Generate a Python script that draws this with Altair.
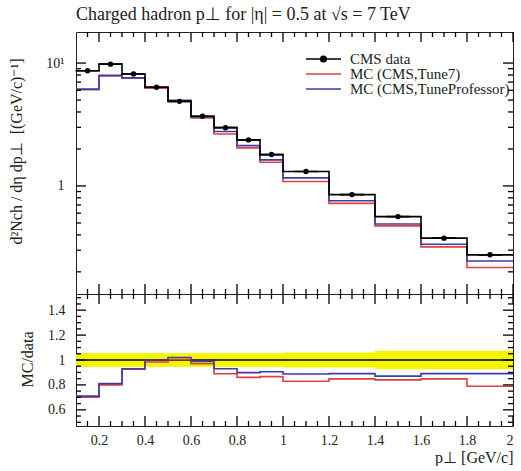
import altair as alt
import pandas as pd

# ---------------- data ----------------
bin_edges = [0.1, 0.2, 0.3, 0.4, 0.5, 0.6, 0.7, 0.8, 0.9, 1.0, 1.2, 1.4, 1.6, 1.8, 2.0]
cms_data = [8.65, 9.80, 8.15, 6.35, 4.88, 3.69, 2.98, 2.37, 1.80, 1.31, 0.850, 0.563, 0.376, 0.275]
mc_tune7 = [6.06, 7.84, 7.54, 6.25, 4.90, 3.58, 2.65, 2.04, 1.56, 1.087, 0.721, 0.473, 0.319, 0.217]
mc_prof = [6.14, 7.94, 7.58, 6.35, 4.98, 3.65, 2.77, 2.13, 1.63, 1.163, 0.757, 0.490, 0.335, 0.245]
data_rel_err = [0.055, 0.055, 0.055, 0.055, 0.055, 0.055, 0.055, 0.055, 0.055,
                0.06, 0.06, 0.075, 0.075, 0.075]

series_names = ["CMS data", "MC (CMS,Tune7)", "MC (CMS,TuneProfessor)"]
series_colors = ["#000000", "#e0403c", "#3c3ca8"]

x_major = [0.2, 0.4, 0.6, 0.8, 1.0, 1.2, 1.4, 1.6, 1.8, 2.0]
x_minor = [0.15, 0.25, 0.3, 0.35, 0.45, 0.5, 0.55, 0.65, 0.7, 0.75, 0.85, 0.9, 0.95,
           1.05, 1.1, 1.15, 1.25, 1.3, 1.35, 1.45, 1.5, 1.55, 1.65, 1.7, 1.75,
           1.85, 1.9, 1.95]
y_main_major = [1, 10]
y_main_minor = [0.2, 0.3, 0.4, 0.5, 0.6, 0.7, 0.8, 0.9, 2, 3, 4, 5, 6, 7, 8, 9]
ratio_major = [0.6, 0.8, 1.0, 1.2, 1.4]
ratio_minor = [0.5, 0.55, 0.65, 0.7, 0.75, 0.85, 0.9, 0.95, 1.05, 1.1, 1.15,
               1.25, 1.3, 1.35, 1.45, 1.5]

NB = "\u00a0"
title_text = "Charged hadron p\u22a5 for |\u03b7| = 0.5 at \u221as = 7 TeV"
ytitle_main = ("d\u00b2Nch" + NB + "/" + NB + "d\u03b7" + NB + "dp\u22a5" + NB + NB
               + "[(GeV/c)\u207b\u00b9]")
ytitle_ratio = "MC/data"
xtitle = "p\u22a5 [GeV/c]"

# ---------------- layout / style ----------------
FONT = "Liberation Serif"
FRAME = "#222222"
TICK = "#000000"
TXT = "#222222"
W = 437
H_MAIN = 262
H_RATIO = 132
MAJ = 10
MIN = 5
LW = 1.6
TW = 1.3

xs = alt.Scale(domain=[0.1, 2.0], nice=False, zero=False)
ys_main = alt.Scale(type="log", domain=[0.132, 17.9], nice=False)
ys_ratio = alt.Scale(domain=[0.47, 1.53], nice=False, zero=False)

main_yaxis = alt.Axis(
    values=y_main_major,
    labelExpr="datum.value == 10 ? '10\u00b9' : '1'",
    ticks=False, domain=False, grid=False,
    labelFont=FONT, labelFontSize=14, labelPadding=12, labelColor=TXT,
    title=ytitle_main, titleFont=FONT, titleFontSize=16, titleFontWeight="normal",
    titleColor=TXT, titleX=-60, titleY=119, titleBaseline="middle",
)
ratio_xaxis = alt.Axis(
    values=x_major, format="~g", ticks=False, domain=False, grid=False,
    labelFont=FONT, labelFontSize=14, labelPadding=7, labelColor=TXT,
    title=xtitle, titleFont=FONT, titleFontSize=16, titleFontWeight="normal",
    titleColor=TXT, titleAnchor="end", titlePadding=2,
)
ratio_yaxis = alt.Axis(
    values=ratio_major,
    labelExpr=("datum.value == 1 ? '1' : format(datum.value, '.1f') + '"
               + NB * 4 + "'"),
    ticks=False, domain=False, grid=False,
    labelFont=FONT, labelFontSize=14, labelColor=TXT, labelPadding=11,
    title=ytitle_ratio, titleFont=FONT, titleFontSize=16, titleFontWeight="normal",
    titleColor=TXT, titleX=-49, titleY=65, titleBaseline="middle",
)


def step_table(values):
    vals = list(values) + [values[-1]]
    return pd.DataFrame({"x": bin_edges, "y": vals})


def step_line(values, color, yscale, yaxis, xaxis):
    return alt.Chart(step_table(values)).mark_line(
        interpolate="step-after", color=color, strokeWidth=LW, clip=True
    ).encode(
        x=alt.X("x:Q", scale=xs, axis=xaxis),
        y=alt.Y("y:Q", scale=yscale, axis=yaxis),
    )


def x_ticks(values, length, height, xaxis):
    df = pd.DataFrame({"v": values})
    base = alt.Chart(df).mark_tick(orient="vertical", color=TICK, thickness=TW,
                                   size=length, opacity=1)
    bottom = base.encode(x=alt.X("v:Q", scale=xs, axis=xaxis),
                         y=alt.value(height - length / 2))
    top = base.encode(x=alt.X("v:Q", scale=xs, axis=xaxis),
                      y=alt.value(length / 2))
    return [bottom, top]


def y_ticks(values, length, yscale, yaxis):
    df = pd.DataFrame({"v": values})
    base = alt.Chart(df).mark_tick(orient="horizontal", color=TICK, thickness=TW,
                                   size=length, opacity=1)
    left = base.encode(y=alt.Y("v:Q", scale=yscale, axis=yaxis),
                       x=alt.value(length / 2))
    right = base.encode(y=alt.Y("v:Q", scale=yscale, axis=yaxis),
                        x=alt.value(W - length / 2))
    return [left, right]


# ---------------- main panel ----------------
dot_path = ("M-1,0L1,0M-0.16,0A0.16,0.16,0,1,1,0.16,0"
            "A0.16,0.16,0,1,1,-0.16,0Z")
legend_spec = alt.Legend(
    title=None, orient="none", legendX=229, legendY=21, padding=0,
    labelFont=FONT, labelFontSize=15, labelColor=TXT, labelOffset=8, labelLimit=400,
    symbolSize=1225, symbolStrokeWidth=LW, clipHeight=12, rowPadding=0,
)

centers = [(a + b) / 2 for a, b in zip(bin_edges[:-1], bin_edges[1:])]
pts_df = pd.DataFrame({"x": centers, "y": cms_data, "series": series_names[0]})
points = alt.Chart(pts_df).mark_point(
    filled=False, size=576, strokeWidth=LW, opacity=1
).encode(
    x=alt.X("x:Q", scale=xs, axis=None),
    y=alt.Y("y:Q", scale=ys_main, axis=main_yaxis),
    stroke=alt.Stroke("series:N", scale=alt.Scale(domain=series_names, range=series_colors),
                      legend=legend_spec),
    fill=alt.Fill("series:N", scale=alt.Scale(domain=series_names,
                                               range=["#000000", "#000000", "#000000"]),
                  legend=legend_spec),
    shape=alt.Shape("series:N", scale=alt.Scale(domain=series_names,
                                                 range=[dot_path, "stroke", "stroke"]),
                    legend=legend_spec),
)

main_layers = [
    step_line(mc_tune7, series_colors[1], ys_main, main_yaxis, None),
    step_line(mc_prof, series_colors[2], ys_main, main_yaxis, None),
    step_line(cms_data, series_colors[0], ys_main, main_yaxis, None),
    points,
]
main_layers += x_ticks(x_major, MAJ, H_MAIN, None) + x_ticks(x_minor, MIN, H_MAIN, None)
main_layers += (y_ticks(y_main_major, MAJ, ys_main, main_yaxis)
                + y_ticks(y_main_minor, MIN, ys_main, main_yaxis))

main = alt.layer(*main_layers).properties(
    width=W, height=H_MAIN,
    title=alt.TitleParams(title_text, anchor="start", frame="group", font=FONT,
                          fontSize=18, fontWeight="normal", color=TXT, offset=8),
)

# ---------------- ratio panel ----------------
band_df = pd.DataFrame({
    "xlo": bin_edges[:-1], "xhi": bin_edges[1:],
    "lo": [1 - e for e in data_rel_err], "hi": [1 + e for e in data_rel_err],
})
band = alt.Chart(band_df).mark_rect(color="#f5f500", opacity=1).encode(
    x=alt.X("xlo:Q", scale=xs, axis=ratio_xaxis), x2="xhi:Q",
    y=alt.Y("lo:Q", scale=ys_ratio, axis=ratio_yaxis), y2="hi:Q",
)

ratio_data = [d / d for d in cms_data]
ratio_t7 = [m / d for m, d in zip(mc_tune7, cms_data)]
ratio_pr = [m / d for m, d in zip(mc_prof, cms_data)]

ratio_layers = [
    band,
    step_line(ratio_data, series_colors[0], ys_ratio, ratio_yaxis, ratio_xaxis),
    step_line(ratio_t7, series_colors[1], ys_ratio, ratio_yaxis, ratio_xaxis),
    step_line(ratio_pr, series_colors[2], ys_ratio, ratio_yaxis, ratio_xaxis),
]
ratio_layers += (x_ticks(x_major, MAJ, H_RATIO, ratio_xaxis)
                 + x_ticks(x_minor, MIN, H_RATIO, ratio_xaxis))
ratio_layers += (y_ticks(ratio_major, MAJ, ys_ratio, ratio_yaxis)
                 + y_ticks(ratio_minor, MIN, ys_ratio, ratio_yaxis))

ratio = alt.layer(*ratio_layers).properties(width=W, height=H_RATIO)

chart = alt.vconcat(main, ratio, spacing=0, bounds="flush").properties(
    padding={"left": 7, "top": 5, "right": 0, "bottom": 0},
    background="white",
).configure_view(stroke=FRAME, strokeWidth=1)

chart.save("out.html", embed_options={"renderer": "svg", "actions": False})
